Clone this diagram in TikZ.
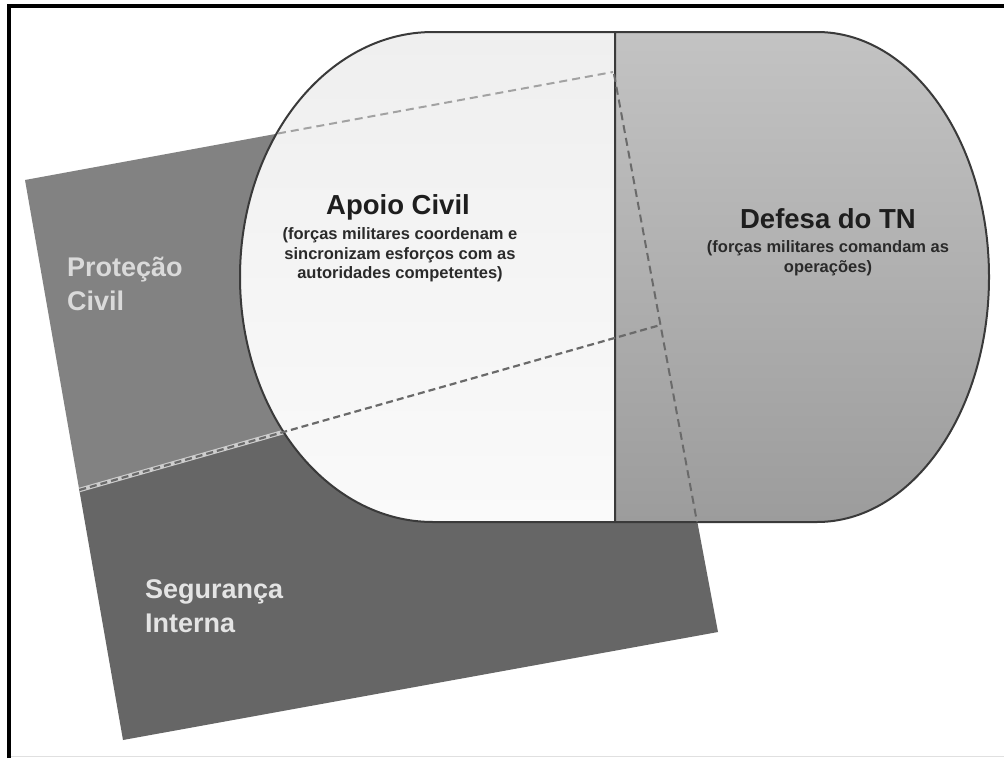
\documentclass[tikz,border=0pt]{standalone}
\usepackage{fontspec}
\setmainfont{Liberation Sans}
\definecolor{protfill}{HTML}{828282}
\definecolor{segtop}{HTML}{666666}
\definecolor{segbot}{HTML}{575757}
\definecolor{apoiotop}{HTML}{EFEFEF}
\definecolor{apoiobot}{HTML}{FAFAFA}
\definecolor{defesatop}{HTML}{C3C3C3}
\definecolor{defesabot}{HTML}{9C9C9C}
\definecolor{capline}{HTML}{3A3A3A}
\definecolor{dashlight}{HTML}{A2A2A2}
\definecolor{dashdark}{HTML}{6A6A6A}
\definecolor{boundlight}{HTML}{CDCDCD}
\definecolor{titletext}{HTML}{1E1E1E}
\definecolor{subtext}{HTML}{2A2A2A}
\definecolor{prottext}{HTML}{DADADA}
\definecolor{segtext}{HTML}{E4E4E4}
\begin{document}
\begin{tikzpicture}[x=1pt,y=-1pt,
  outline/.style={draw=capline, line width=2pt, line join=round},
  titlelabel/.style={font=\bfseries\fontsize{27.5}{30}\selectfont, text=titletext, inner sep=0pt},
  sublabel/.style={font=\bfseries\fontsize{16.5}{19.5}\selectfont, text=subtext, align=center, inner sep=0pt},
  regionlabel/.style={font=\bfseries\fontsize{27}{34}\selectfont, align=left, inner sep=0pt, anchor=base west},
  edgedash/.style={line width=2pt, dash pattern=on 8pt off 5pt},
]
\useasboundingbox (0,0) rectangle (1004,758);
\fill[white] (0,0) rectangle (1004,758);

% rotated square: two regions
\fill[protfill] (25,180) -- (613,72) -- (660.4,325) -- (79.3,490) -- cycle;
\fill[segtop] (79.3,490) -- (660.4,325) -- (718,632) -- (123,740) -- cycle;
% light boundary line (under the capsule)
\draw[line width=4.5pt, draw=boundlight] (79.3,490) -- (660.4,325);

% capsule
\path[outline, top color=apoiotop, bottom color=apoiobot]
  (615,32) -- (433,32) arc[start angle=270, end angle=90, x radius=193, y radius=245] -- (615,522) -- cycle;
\path[outline, top color=defesatop, bottom color=defesabot]
  (615,32) -- (817,32) arc[start angle=270, end angle=450, x radius=172, y radius=245] -- (615,522) -- cycle;

% hidden edges of the square, dashed
\draw[edgedash, draw=dashlight] (278,133.5) -- (613,72);
\draw[edgedash, draw=dashdark] (614,74) -- (697,522);
\draw[line width=2.2pt, dash pattern=on 7pt off 4pt, draw=dashdark] (79.3,490) -- (660.4,325);

% labels
\node[titlelabel] (apoio) at (398,207) {Apoio Civil};
\node[sublabel] (apoiosub) at (400,255) {(forças militares coordenam e\\sincronizam esforços com as\\autoridades competentes)};
\node[titlelabel] (defesa) at (828,219) {Defesa do TN};
\node[sublabel] (defesasub) at (828,258) {(forças militares comandam as\\operações)};
\node[regionlabel, text=prottext] (protecao) at (67,310) {Proteção\\Civil};
\node[regionlabel, text=segtext] (seguranca) at (145,632) {Segurança\\Interna};

% frame
\draw[line width=3.5pt, line join=miter] (9,758) -- (9,6) -- (1004,6);
\draw[line width=1pt, draw=black!12] (11,756.5) -- (1004,756.5);
\end{tikzpicture}
\end{document}
